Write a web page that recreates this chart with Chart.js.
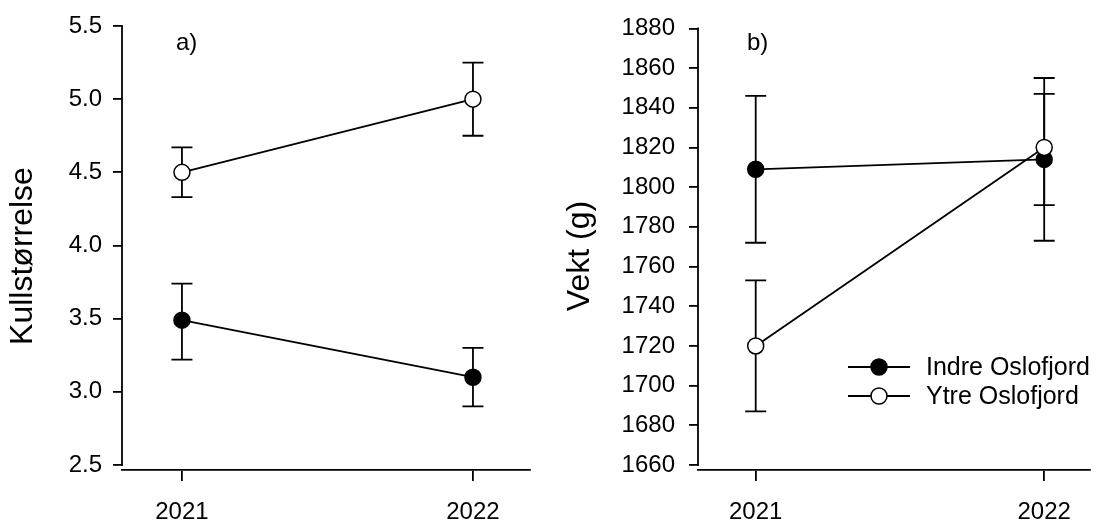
<!DOCTYPE html>
<html>
<head>
<meta charset="utf-8">
<style>
  body { margin: 0; background: #fff; }
  #wrap { position: relative; width: 1099px; height: 520px; }
  canvas { position: absolute; top: 0; }
</style>
</head>
<body>
<div id="wrap">
  <canvas id="grafA" width="540" height="520" style="left:0"></canvas>
  <canvas id="grafB" width="559" height="520" style="left:540px"></canvas>
</div>
<script src="https://cdn.jsdelivr.net/npm/chart.js"></script>
<script>
    // Data
    const years = [2021, 2022];

    // a) Kullstørrelse
    const kullIndre = [3.49, 3.10];
    const kullIndreLo = [3.22, 2.90];
    const kullIndreHi = [3.74, 3.30];
    const kullYtre = [4.50, 5.00];
    const kullYtreLo = [4.33, 4.75];
    const kullYtreHi = [4.67, 5.25];
    const kullTicks = [2.5, 3.0, 3.5, 4.0, 4.5, 5.0, 5.5];

    // b) Vekt (g)
    const vektIndre = [1809, 1814];
    const vektIndreLo = [1772, 1773];
    const vektIndreHi = [1846, 1855];
    const vektYtre = [1720, 1820];
    const vektYtreLo = [1687, 1791];
    const vektYtreHi = [1753, 1847];
    const vektTicks = [1660, 1680, 1700, 1720, 1740, 1760, 1780, 1800, 1820, 1840, 1860, 1880];

    const seriesNames = ['Indre Oslofjord', 'Ytre Oslofjord'];

    const FONT = "'Liberation Sans', Arial, sans-serif";
    Chart.defaults.font.family = FONT;
    Chart.defaults.color = '#000';

    function toPoints(values) {
        return years.map((yr, i) => ({ x: yr, y: values[i] }));
    }

    // error bars, y axis line, axis title, panel letter and legend
    function extrasPlugin(cfg) {
        return {
            id: 'extras',
            beforeDatasetsDraw(chart) {
                const ctx = chart.ctx;
                const xs = chart.scales.x, ys = chart.scales.y;
                ctx.save();
                ctx.strokeStyle = '#000';
                ctx.lineWidth = 1.8;
                cfg.errors.forEach(err => {
                    years.forEach((yr, i) => {
                        const px = xs.getPixelForValue(yr);
                        const top = ys.getPixelForValue(err.hi[i]);
                        const bot = ys.getPixelForValue(err.lo[i]);
                        ctx.beginPath();
                        ctx.moveTo(px, top); ctx.lineTo(px, bot);
                        ctx.moveTo(px - cfg.cap, top); ctx.lineTo(px + cfg.cap, top);
                        ctx.moveTo(px - cfg.cap, bot); ctx.lineTo(px + cfg.cap, bot);
                        ctx.stroke();
                    });
                });
                ctx.restore();
            },
            afterDraw(chart) {
                const ctx = chart.ctx;
                const ys = chart.scales.y;
                const area = chart.chartArea;
                ctx.save();
                // y axis line stops at the lowest tick
                ctx.strokeStyle = '#000';
                ctx.lineWidth = 1.8;
                ctx.beginPath();
                ctx.moveTo(area.left, ys.getPixelForValue(cfg.ticks[cfg.ticks.length - 1]) - 1);
                ctx.lineTo(area.left, ys.getPixelForValue(cfg.ticks[0]) + 1);
                ctx.stroke();

                ctx.fillStyle = '#000';
                ctx.textBaseline = 'middle';

                // axis title
                ctx.save();
                ctx.translate(cfg.titleX, cfg.titleY);
                ctx.rotate(-Math.PI / 2);
                ctx.textAlign = 'center';
                ctx.font = '32px ' + FONT;
                ctx.fillText(cfg.title, 0, 0);
                ctx.restore();

                ctx.font = '24px ' + FONT;
                ctx.fillText(cfg.letter, area.left + cfg.letterDx, 43);

                if (cfg.legend) {
                    const rows = [
                        { name: seriesNames[0], fill: '#000', y: 367 },
                        { name: seriesNames[1], fill: '#fff', y: 396 }
                    ];
                    ctx.font = '25px ' + FONT;
                    rows.forEach(r => {
                        ctx.beginPath();
                        ctx.moveTo(308, r.y); ctx.lineTo(370, r.y);
                        ctx.stroke();
                        ctx.beginPath();
                        ctx.arc(339, r.y, 8, 0, Math.PI * 2);
                        ctx.fillStyle = r.fill;
                        ctx.fill();
                        ctx.lineWidth = 1.5;
                        ctx.stroke();
                        ctx.lineWidth = 1.8;
                        ctx.fillStyle = '#000';
                        ctx.fillText(r.name, 386, r.y + 1);
                    });
                }
                ctx.restore();
            }
        };
    }

    function crearGrafico(id, cfg) {
        const ctx = document.getElementById(id).getContext('2d');
        new Chart(ctx, {
            type: 'line',
            data: {
                datasets: [{
                    label: seriesNames[1],
                    data: toPoints(cfg.ytre),
                    borderColor: '#000',
                    borderWidth: 1.8,
                    pointRadius: 8,
                    pointBorderWidth: 1.5,
                    pointBackgroundColor: '#fff',
                    pointBorderColor: '#000',
                    fill: false
                }, {
                    label: seriesNames[0],
                    data: toPoints(cfg.indre),
                    borderColor: '#000',
                    borderWidth: 1.8,
                    pointRadius: 8,
                    pointBorderWidth: 1.5,
                    pointBackgroundColor: '#000',
                    pointBorderColor: '#000',
                    fill: false
                }]
            },
            options: {
                responsive: false,
                animation: false,
                layout: { padding: { top: 26, right: cfg.padRight, left: 0, bottom: 0 } },
                plugins: { legend: { display: false }, tooltip: { enabled: false } },
                scales: {
                    x: {
                        type: 'linear',
                        min: cfg.xMin,
                        max: cfg.xMax,
                        afterBuildTicks: s => { s.ticks = years.map(v => ({ value: v })); },
                        afterFit: s => { s.height = 50; },
                        ticks: {
                            callback: v => String(v),
                            font: { size: 24 },
                            padding: 17,
                            maxRotation: 0
                        },
                        grid: { drawOnChartArea: false, drawTicks: true, tickLength: 11, color: '#000', lineWidth: 1.8 },
                        border: { display: true, color: '#000', width: 1.8 }
                    },
                    y: {
                        type: 'linear',
                        min: cfg.yMin,
                        max: cfg.ticks[cfg.ticks.length - 1],
                        afterBuildTicks: s => { s.ticks = cfg.ticks.map(v => ({ value: v })); },
                        afterFit: s => { s.width = cfg.yWidth; },
                        ticks: {
                            callback: cfg.fmt,
                            font: { size: 24 },
                            padding: cfg.labelPad
                        },
                        grid: { drawOnChartArea: false, drawTicks: true, tickLength: 9, color: '#000', lineWidth: 1.8 },
                        border: { display: false }
                    }
                }
            },
            plugins: [extrasPlugin(cfg)]
        });
    }

    document.addEventListener('DOMContentLoaded', () => {
        crearGrafico('grafA', {
            indre: kullIndre, ytre: kullYtre,
            errors: [
                { lo: kullIndreLo, hi: kullIndreHi },
                { lo: kullYtreLo, hi: kullYtreHi }
            ],
            ticks: kullTicks,
            yMin: 2.5 - 5 * 3 / 439,
            fmt: v => v.toFixed(1),
            title: 'Kullstørrelse',
            titleX: 23, titleY: 256,
            yWidth: 122,
            labelPad: 11,
            xMin: 2020.794,
            xMax: 2022.196,
            padRight: 10,
            cap: 10.5,
            letter: 'a)',
            letterDx: 54,
            legend: false
        });
        crearGrafico('grafB', {
            indre: vektIndre, ytre: vektYtre,
            errors: [
                { lo: vektIndreLo, hi: vektIndreHi },
                { lo: vektYtreLo, hi: vektYtreHi }
            ],
            ticks: vektTicks,
            yMin: 1660 - 5 * 220 / 439,
            fmt: v => String(v),
            title: 'Vekt (g)',
            titleX: 40, titleY: 256,
            yWidth: 158,
            labelPad: 14,
            xMin: 2020.8,
            xMax: 2022.157,
            padRight: 0,
            cap: 10.5,
            letter: 'b)',
            letterDx: 49,
            legend: true
        });
    });
</script>
</body>
</html>
